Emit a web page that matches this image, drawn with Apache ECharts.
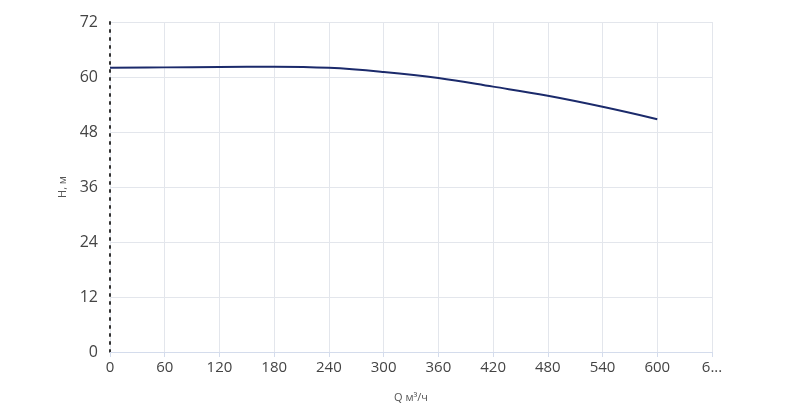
<!DOCTYPE html><html><head><meta charset="utf-8"><script src="https://cdn.jsdelivr.net/npm/echarts@6/dist/echarts.min.js"></script></head><body style="margin:0"><div id="c" style="width:800px;height:408px"></div><script>
const flow=[0,60,120,180,240,300,360,420,480,540,600];
const head=[62.0,62.1,62.2,62.25,62.0,61.1,59.8,57.9,55.9,53.5,50.8];
const chart=echarts.init(document.getElementById('c'));
chart.setOption({animation:false,
grid:{left:110,right:88,top:22,bottom:56},
xAxis:{type:'value',min:0,max:660,interval:60,name:'Q м³/ч',nameLocation:'middle',nameGap:40,
nameTextStyle:{color:'#555',fontSize:11,fontFamily:'Open Sans'},
axisLine:{lineStyle:{color:'#d4dcec'}},axisTick:{show:true,lineStyle:{color:'#d4dcec'}},
axisLabel:{color:'#444',fontSize:15,fontFamily:'Open Sans',formatter:v=>v===660?'6...':String(v)},
splitLine:{lineStyle:{color:'#e3e6ec'}}},
yAxis:{type:'value',min:0,max:72,interval:12,name:'H, м',nameLocation:'middle',nameGap:42,
nameTextStyle:{color:'#555',fontSize:11,fontFamily:'Open Sans'},
axisLine:{show:true,lineStyle:{color:'#333',width:2,type:[2,6]}},axisTick:{show:false},
axisLabel:{color:'#444',fontSize:16,fontFamily:'Open Sans',margin:12},
splitLine:{lineStyle:{color:'#e3e6ec'}}},
series:[{type:'line',data:flow.map((x,i)=>[x,head[i]]),smooth:0.4,showSymbol:false,
lineStyle:{color:'#1b2a6b',width:2}}]});
</script></body></html>
